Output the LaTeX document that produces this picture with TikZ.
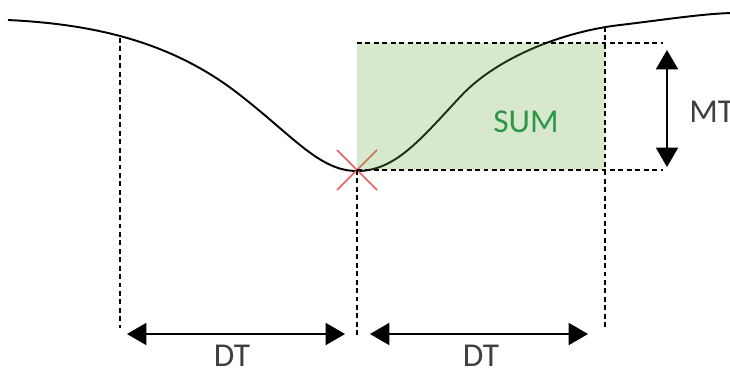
\documentclass[tikz,border=0pt]{standalone}
\usepackage{fontspec}
\setmainfont{Carlito}
\usepackage{tikz}
\usetikzlibrary{arrows.meta}
\definecolor{sumgreen}{RGB}{112,173,71}
\definecolor{sumtext}{RGB}{46,150,72}
\definecolor{crossred}{RGB}{232,95,95}
\definecolor{labelgray}{RGB}{64,64,64}
\tikzset{
  curveline/.style = {line width=1.1pt,black},
  guide/.style     = {dashed,dash pattern=on 2.8pt off 2pt,line width=1.15pt},
  dimarr/.style    = {{Triangle[length=11pt,width=12.5pt]}-{Triangle[length=11pt,width=12.5pt]},line width=1.1pt},
  dimlabel/.style  = {font=\fontsize{19}{22}\selectfont,text=labelgray,anchor=base,inner sep=0pt}
}
\begin{document}
\begin{tikzpicture}[x=0.02cm,y=-0.02cm]
  \useasboundingbox (0,0) rectangle (730,372);
  % the dip
  \draw[curveline] (8,20) .. controls (90,24) and (170,40) .. (240,95)
    .. controls (295,138) and (320,171) .. (357,171)
    .. controls (395,171) and (420,140) .. (460,97)
    .. controls (495,59) and (560,32) .. (620,25)
    .. controls (660,20.3) and (700,14) .. (731,13);
  \coordinate (low)    at (357,170);
  \coordinate (lefttop) at (120,38);
  \coordinate (leftbot) at (120,328);
  \coordinate (lowbot) at (357,338);
  \coordinate (righttop) at (605,27);
  \coordinate (rightbot) at (605,328);
  \coordinate (boxnw)  at (357,43);
  \coordinate (boxne)  at (663,43);
  \coordinate (boxse)  at (663,170);
  % minimum marker
  \draw[crossred,line width=0.9pt] (low) ++(-20,-20) -- ++(40,40);
  \draw[crossred,line width=0.9pt] (low) ++(-20,20) -- ++(40,-40);
  \fill[sumgreen,opacity=0.28] (boxnw) rectangle (605,170);
  % guides
  \draw[guide] (lefttop) -- (leftbot);
  \draw[guide] (low) -- (lowbot);
  \draw[guide] (righttop) -- (rightbot);
  \draw[guide] (boxnw) -- (boxne);
  \draw[guide] (low) -- (boxse);
  % dimensions
  \coordinate (dtA) at (127,334);
  \coordinate (dtB) at (345,334);
  \coordinate (dtC) at (370,334);
  \coordinate (dtD) at (588,334);
  \coordinate (mtA) at (667,50);
  \coordinate (mtB) at (667,167);
  \draw[dimarr] (dtA) -- (dtB);
  \draw[dimarr] (dtC) -- (dtD);
  \draw[dimarr] (mtA) -- (mtB);
  \node[dimlabel] (dtleft)  at (232,366) {DT};
  \node[dimlabel] (dtright) at (481,366) {DT};
  \node[dimlabel,anchor=base west] (mtlabel) at (689,122) {MT};
  \node[dimlabel,text=sumtext] (sumlabel) at (526,132) {SUM};
\end{tikzpicture}
\end{document}
